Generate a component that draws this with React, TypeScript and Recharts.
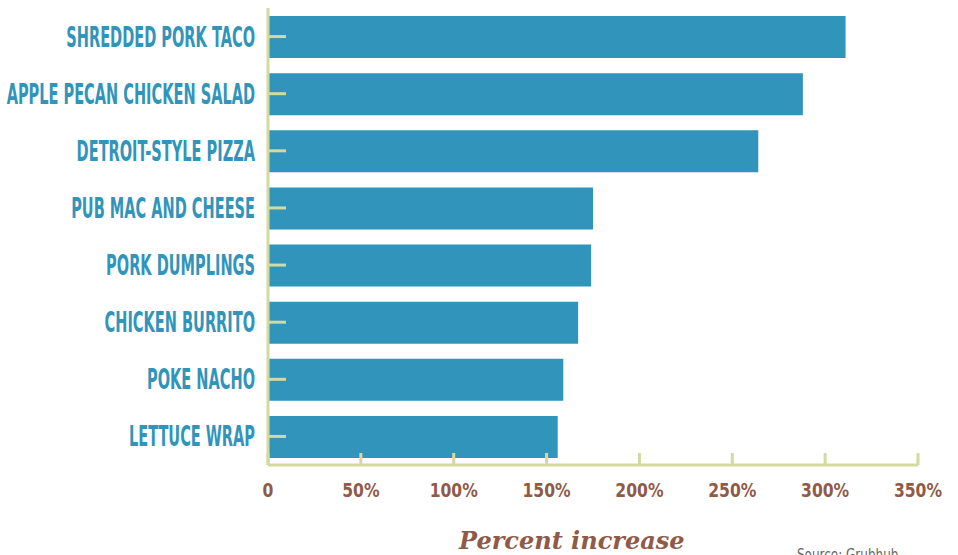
import { Bar, BarChart, XAxis, YAxis } from 'recharts';

const dishes = [
  'SHREDDED PORK TACO',
  'APPLE PECAN CHICKEN SALAD',
  'DETROIT-STYLE PIZZA',
  'PUB MAC AND CHEESE',
  'PORK DUMPLINGS',
  'CHICKEN BURRITO',
  'POKE NACHO',
  'LETTUCE WRAP',
];
const increase = [311, 288, 264, 175, 174, 167, 159, 156];
const xTicks = [0, 50, 100, 150, 200, 250, 300, 350];

const data = dishes.map((name, i) => ({ name, value: increase[i] }));

const BLUE = '#3094bb';
const BROWN = '#8f5a48';
const AXIS = '#d3da9e';

// no condensed face installed, so squeeze DejaVu Sans Bold horizontally
function DishTick(props: any) {
  const { x, y, payload } = props;
  return (
    <g>
      <line x1={x} x2={x + 18} y1={y} y2={y} stroke={AXIS} strokeWidth={3} />
      <text
        transform={`translate(${x - 13},${y + 10}) scale(0.52,1)`}
        textAnchor="end"
        fill={BLUE}
        fontFamily="'DejaVu Sans', sans-serif"
        fontWeight={700}
        fontSize={28}
      >
        {payload.value}
      </text>
    </g>
  );
}

function PctTick(props: any) {
  const { x, y, payload } = props;
  return (
    <g>
      <line x1={x} x2={x} y1={y - 12} y2={y} stroke={AXIS} strokeWidth={3} />
      <text
        transform={`translate(${x},${y + 32}) scale(0.78,1)`}
        textAnchor="middle"
        fill={BROWN}
        fontFamily="'DejaVu Sans', sans-serif"
        fontWeight={700}
        fontSize={20}
      >
        {payload.value === 0 ? '0' : `${payload.value}%`}
      </text>
    </g>
  );
}

export default function App() {
  return (
    <div style={{ position: 'absolute', left: 0, top: 0, width: 958, height: 555, background: '#fff' }}>
      <BarChart
        width={958}
        height={555}
        layout="vertical"
        data={data}
        margin={{ top: 8, right: 40, left: 0, bottom: 30 }}
      >
        <XAxis
          type="number"
          domain={[0, 350]}
          ticks={xTicks}
          height={60}
          tickSize={0}
          tickMargin={0}
          tickLine={false}
          axisLine={{ stroke: AXIS, strokeWidth: 3 }}
          tick={<PctTick />}
        />
        <YAxis
          type="category"
          dataKey="name"
          width={268}
          tickSize={0}
          tickMargin={0}
          tickLine={false}
          axisLine={{ stroke: AXIS, strokeWidth: 3 }}
          tick={<DishTick />}
        />
        <Bar dataKey="value" fill={BLUE} barSize={42} isAnimationActive={false} />
      </BarChart>
      <div
        style={{
          position: 'absolute',
          left: 459,
          top: 526,
          color: BROWN,
          fontFamily: "'DejaVu Serif', serif",
          fontStyle: 'italic',
          fontWeight: 700,
          fontSize: 24,
          lineHeight: '30px',
          whiteSpace: 'nowrap',
        }}
      >
        Percent increase
      </div>
      <div
        style={{
          position: 'absolute',
          left: 797,
          top: 546,
          color: '#666',
          fontFamily: "'DejaVu Sans', sans-serif",
          fontSize: 15,
          lineHeight: '18px',
          whiteSpace: 'nowrap',
          transform: 'scaleX(0.8)',
          transformOrigin: 'left center',
        }}
      >
        Source: Grubhub
      </div>
    </div>
  );
}
